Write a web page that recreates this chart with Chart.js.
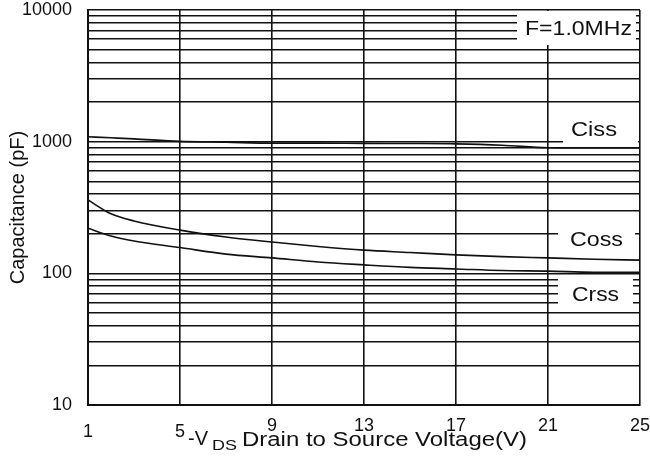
<!DOCTYPE html>
<html>
<head>
<meta charset="utf-8">
<script src="https://cdn.jsdelivr.net/npm/chart.js@4.4.1/dist/chart.umd.min.js"></script>
<style>
  html, body { margin: 0; padding: 0; background: #fff; }
  #wrap { width: 650px; height: 463px; }
</style>
</head>
<body>
<div id="wrap"><canvas id="cap" width="650" height="463"></canvas></div>
<script>
// -VDS in volts
const vds = [1, 2, 3, 5, 7, 9, 11, 13, 15, 17, 19, 21, 23, 25];
// capacitance in pF
const ciss = [1090, 1070, 1050, 1005, 990, 975, 975, 970, 968, 962, 940, 900, 895, 895];
const coss = [361, 283, 250, 213, 189, 173, 160, 150, 144, 138, 134, 131, 128, 126];
const crss = [220, 192, 176, 157, 140, 131, 122, 116, 111, 108, 105, 104, 102, 102];

const xTicks = [1, 5, 9, 13, 17, 21, 25];
const yTicks = [10, 100, 1000, 10000];

const FONT = "'Liberation Sans', Arial, sans-serif";

// minor grid lines for every 1..9 step of each decade
let yGrid = [];
for (let d = 10; d < 10000; d *= 10) {
  for (let m = 1; m < 10; m++) yGrid.push(d * m);
}
yGrid.push(10000);

const mkLine = (label, data) => ({
  label: label,
  data: vds.map((v, i) => ({ x: v, y: data[i] })),
  borderColor: "#111",
  borderWidth: 1.6,
  pointRadius: 0,
  fill: false,
  cubicInterpolationMode: "monotone",
});

// white label boxes sitting on the grid; w = width the text is stretched to
const labels = [
  { text: "F=1.0MHz", box: [517, 11, 119, 34], tx: 525, ty: 29, w: 107 },
  { text: "Ciss", box: [563, 110, 75, 35], tx: 571, ty: 130, w: 46 },
  { text: "Coss", box: [558, 217, 77, 36], tx: 570, ty: 240, w: 53 },
  { text: "Crss", box: [558, 275, 75, 37], tx: 572, ty: 295, w: 47 },
];

// text stretched horizontally to a given width
function wideText(ctx, s, x, y, w) {
  const nat = ctx.measureText(s).width;
  ctx.save();
  ctx.translate(x, y);
  ctx.scale(w / nat, 1);
  ctx.fillText(s, 0, 0);
  ctx.restore();
}

const annot = {
  id: "annot",
  beforeDatasetsDraw(chart) {
    const ctx = chart.ctx;
    ctx.save();
    ctx.fillStyle = "#fff";
    labels.forEach((l) => ctx.fillRect(l.box[0], l.box[1], l.box[2], l.box[3]));
    ctx.restore();
  },
  afterDraw(chart) {
    const ctx = chart.ctx;
    ctx.save();
    ctx.fillStyle = "#111";
    ctx.textBaseline = "middle";
    ctx.textAlign = "left";
    ctx.font = "20px " + FONT;
    labels.forEach((l) => wideText(ctx, l.text, l.tx, l.ty, l.w));

    // x axis title with subscript
    const y = 440;
    ctx.font = "20px " + FONT;
    wideText(ctx, "-V", 188, y - 1, 20);
    ctx.font = "15px " + FONT;
    wideText(ctx, "DS", 212, y + 6, 25);
    ctx.font = "20px " + FONT;
    wideText(ctx, "Drain to Source Voltage(V)", 242, y, 285);
    ctx.restore();
  },
};

new Chart(document.getElementById("cap").getContext("2d"), {
  type: "line",
  data: {
    datasets: [mkLine("Ciss", ciss), mkLine("Coss", coss), mkLine("Crss", crss)],
  },
  options: {
    responsive: false,
    animation: false,
    devicePixelRatio: 1,
    layout: { padding: 0 },
    plugins: { legend: { display: false }, tooltip: { enabled: false } },
    scales: {
      x: {
        type: "linear",
        min: 1,
        max: 25,
        afterBuildTicks: (s) => { s.ticks = xTicks.map((v) => ({ value: v })); },
        afterFit: (s) => {
          s.height = 58;
          s.paddingLeft = 0;
          s.paddingRight = 10;
        },
        grid: { color: "#111", lineWidth: 1.6, drawTicks: false },
        border: { color: "#111", width: 2 },
        ticks: {
          autoSkip: false,
          maxRotation: 0,
          padding: 11,
          color: "#111",
          // first two labels sit a little lower in the original
          font: (c) => ({
            family: FONT,
            size: 18,
            lineHeight: c.tick && c.tick.value <= 5 ? "32px" : "20px",
          }),
        },
      },
      y: {
        type: "logarithmic",
        min: 10,
        max: 10000,
        afterBuildTicks: (s) => { s.ticks = yGrid.map((v) => ({ value: v })); },
        afterFit: (s) => {
          s.width = 88;
          s.paddingTop = 10;
          s.paddingBottom = 0;
        },
        grid: { color: "#111", lineWidth: 1.6, drawTicks: false },
        border: { color: "#111", width: 2 },
        ticks: {
          autoSkip: false,
          padding: 16,
          color: "#111",
          font: { family: FONT, size: 18 },
          callback: (v) => (yTicks.includes(v) ? String(v) : ""),
        },
        title: {
          display: true,
          text: "Capacitance (pF)",
          color: "#111",
          font: { family: FONT, size: 20 },
          padding: { top: 6, bottom: 0 },
        },
      },
    },
  },
  plugins: [annot],
});
</script>
</body>
</html>
